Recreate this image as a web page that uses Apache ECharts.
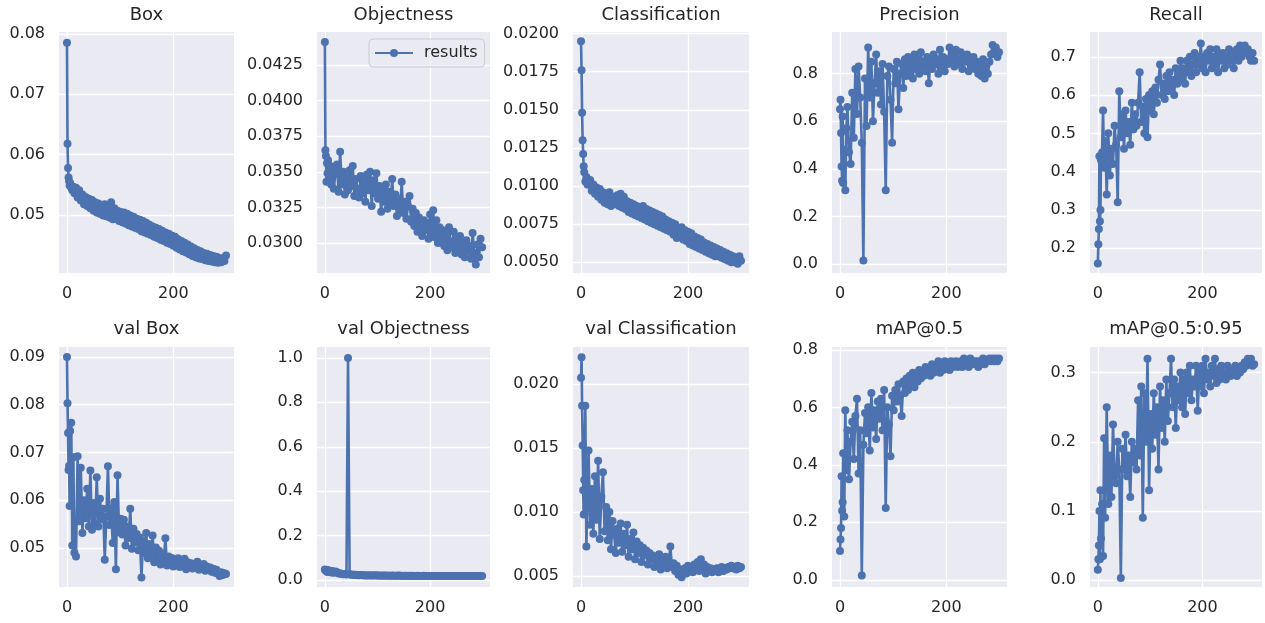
<!DOCTYPE html>
<html>
<head>
<meta charset="utf-8">
<script src="https://cdn.jsdelivr.net/npm/echarts@6/dist/echarts.min.js"></script>
<style>
html, body { margin: 0; padding: 0; background: #fff; }
#chart { width: 1265px; height: 623px; }
</style>
</head>
<body>
<div id="chart"></div>
<script>
// epochs sampled from the training log
const epochs = [
    0, 1, 2, 3, 4, 5, 6, 8, 10, 12,
    14, 17, 20, 23, 26, 29, 32, 35, 38, 41,
    44, 47, 50, 53, 56, 59, 62, 65, 68, 71,
    74, 77, 80, 83, 86, 89, 92, 95, 98, 101,
    104, 107, 110, 113, 116, 119, 122, 125, 128, 131,
    134, 137, 140, 143, 146, 149, 152, 155, 158, 161,
    164, 167, 170, 173, 176, 179, 182, 185, 188, 191,
    194, 197, 200, 203, 206, 209, 212, 215, 218, 221,
    224, 227, 230, 233, 236, 239, 242, 245, 248, 251,
    254, 257, 260, 263, 266, 269, 272, 275, 278, 281,
    284, 287, 290, 293, 296, 299
];

const boxLoss = [
    0.0785, 0.0618, 0.0578, 0.0562, 0.0556, 0.0549, 0.0553, 0.0545, 0.0541, 0.0547,
    0.0536, 0.0545, 0.0529, 0.0541, 0.0524, 0.0534, 0.0518, 0.0530, 0.0515, 0.0527,
    0.0511, 0.0525, 0.0507, 0.0521, 0.0504, 0.0519, 0.0502, 0.0516, 0.0499, 0.0518,
    0.0498, 0.0513, 0.0496, 0.0521, 0.0493, 0.0511, 0.0494, 0.0507, 0.0490, 0.0505,
    0.0488, 0.0504, 0.0486, 0.0502, 0.0483, 0.0499, 0.0481, 0.0497, 0.0479, 0.0494,
    0.0477, 0.0492, 0.0473, 0.0490, 0.0471, 0.0487, 0.0469, 0.0484, 0.0467, 0.0481,
    0.0464, 0.0479, 0.0462, 0.0477, 0.0459, 0.0474, 0.0457, 0.0471, 0.0454, 0.0469,
    0.0452, 0.0466, 0.0449, 0.0464, 0.0446, 0.0460, 0.0443, 0.0457, 0.0440, 0.0454,
    0.0438, 0.0451, 0.0435, 0.0448, 0.0432, 0.0445, 0.0430, 0.0442, 0.0428, 0.0440,
    0.0427, 0.0437, 0.0425, 0.0436, 0.0424, 0.0434, 0.0423, 0.0432, 0.0422, 0.0431,
    0.0421, 0.0429, 0.0422, 0.0428, 0.0424, 0.0433
];

const objLoss = [
    0.0441, 0.0365, 0.0361, 0.0343, 0.0356, 0.0349, 0.0358, 0.0346, 0.0354, 0.0341,
    0.0352, 0.0338, 0.0349, 0.0355, 0.0336, 0.0364, 0.0341, 0.0350, 0.0334, 0.0346,
    0.0337, 0.0351, 0.0340, 0.0354, 0.0333, 0.0345, 0.0338, 0.0332, 0.0347, 0.0335,
    0.0343, 0.0329, 0.0348, 0.0337, 0.0350, 0.0326, 0.0344, 0.0335, 0.0349, 0.0331,
    0.0340, 0.0322, 0.0337, 0.0329, 0.0341, 0.0324, 0.0336, 0.0328, 0.0345, 0.0326,
    0.0334, 0.0319, 0.0331, 0.0323, 0.0343, 0.0321, 0.0329, 0.0317, 0.0326, 0.0333,
    0.0315, 0.0324, 0.0312, 0.0321, 0.0308, 0.0318, 0.0311, 0.0305, 0.0316, 0.0309,
    0.0314, 0.0303, 0.0320, 0.0307, 0.0323, 0.0304, 0.0316, 0.0300, 0.0311, 0.0302,
    0.0309, 0.0298, 0.0306, 0.0295, 0.0311, 0.0301, 0.0297, 0.0308, 0.0293, 0.0303,
    0.0296, 0.0305, 0.0292, 0.0300, 0.0290, 0.0302, 0.0294, 0.0298, 0.0289, 0.0307,
    0.0293, 0.0285, 0.0299, 0.0290, 0.0303, 0.0297
];

const clsLoss = [
    0.0195, 0.0176, 0.0148, 0.0130, 0.0121, 0.0113, 0.0109, 0.0103, 0.0106, 0.0101,
    0.0101, 0.0104, 0.0097, 0.0101, 0.0095, 0.0099, 0.0093, 0.0098, 0.0091, 0.0096,
    0.0089, 0.0095, 0.0088, 0.0096, 0.0087, 0.0093, 0.0088, 0.0092, 0.0094, 0.0087,
    0.0095, 0.0086, 0.0093, 0.0085, 0.0090, 0.0083, 0.0089, 0.0082, 0.0088, 0.0081,
    0.0087, 0.0080, 0.0086, 0.0079, 0.0087, 0.0078, 0.0085, 0.0077, 0.0084, 0.0076,
    0.0083, 0.0075, 0.0082, 0.0074, 0.0081, 0.0073, 0.0080, 0.0072, 0.0078, 0.0071,
    0.0077, 0.0070, 0.0076, 0.0068, 0.0075, 0.0066, 0.0072, 0.0067, 0.0073, 0.0065,
    0.0071, 0.0064, 0.0070, 0.0062, 0.0069, 0.0061, 0.0067, 0.0060, 0.0066, 0.0059,
    0.0065, 0.0058, 0.0063, 0.0057, 0.0062, 0.0056, 0.0061, 0.0055, 0.0060, 0.0054,
    0.0059, 0.0054, 0.0058, 0.0053, 0.0057, 0.0052, 0.0056, 0.0051, 0.0055, 0.0050,
    0.0054, 0.0050, 0.0053, 0.0049, 0.0054, 0.0051
];

const precision = [
    0.65, 0.69, 0.55, 0.41, 0.35, 0.62, 0.34, 0.48, 0.31, 0.57,
    0.66, 0.47, 0.42, 0.72, 0.53, 0.82, 0.63, 0.83, 0.70, 0.51,
    0.015, 0.78, 0.58, 0.91, 0.70, 0.85, 0.60, 0.76, 0.88, 0.72,
    0.81, 0.67, 0.84, 0.64, 0.31, 0.79, 0.83, 0.69, 0.51, 0.82,
    0.76, 0.85, 0.65, 0.80, 0.84, 0.74, 0.86, 0.79, 0.87, 0.81,
    0.85, 0.78, 0.88, 0.82, 0.86, 0.80, 0.89, 0.83, 0.85, 0.81,
    0.87, 0.76, 0.85, 0.82, 0.88, 0.84, 0.86, 0.80, 0.90, 0.83,
    0.87, 0.81, 0.86, 0.84, 0.91, 0.85, 0.88, 0.83, 0.90, 0.86,
    0.84, 0.89, 0.82, 0.87, 0.85, 0.88, 0.81, 0.86, 0.83, 0.87,
    0.82, 0.85, 0.80, 0.84, 0.79, 0.86, 0.78, 0.83, 0.80, 0.85,
    0.88, 0.92, 0.89, 0.91, 0.87, 0.89
];

const recall = [
    0.16, 0.21, 0.25, 0.44, 0.27, 0.30, 0.43, 0.45, 0.56, 0.41,
    0.48, 0.34, 0.50, 0.39, 0.46, 0.42, 0.52, 0.47, 0.32, 0.61,
    0.49, 0.55, 0.46, 0.56, 0.50, 0.53, 0.47, 0.58, 0.51, 0.55,
    0.52, 0.58, 0.66, 0.53, 0.57, 0.50, 0.59, 0.49, 0.60, 0.56,
    0.61, 0.55, 0.62, 0.58, 0.64, 0.68, 0.60, 0.63, 0.59, 0.65,
    0.61, 0.66, 0.62, 0.64, 0.60, 0.67, 0.63, 0.65, 0.69, 0.64,
    0.67, 0.63, 0.69, 0.66, 0.70, 0.65, 0.68, 0.71, 0.66, 0.70,
    0.68, 0.735, 0.67, 0.70, 0.66, 0.71, 0.69, 0.72, 0.67, 0.70,
    0.68, 0.72, 0.66, 0.70, 0.69, 0.71, 0.67, 0.70, 0.68, 0.72,
    0.69, 0.71, 0.67, 0.70, 0.72, 0.69, 0.73, 0.70, 0.72, 0.73,
    0.71, 0.72, 0.70, 0.69, 0.71, 0.69
];

const valBoxLoss = [
    0.0900, 0.0803, 0.0741, 0.0663, 0.0672, 0.0588, 0.0745, 0.0762, 0.0505, 0.0690,
    0.0490, 0.0482, 0.0692, 0.0556, 0.0668, 0.0531, 0.0600, 0.0562, 0.0624, 0.0545,
    0.0662, 0.0538, 0.0594, 0.0551, 0.0648, 0.0545, 0.0603, 0.0560, 0.0582, 0.0475,
    0.0565, 0.0671, 0.0548, 0.0583, 0.0510, 0.0596, 0.0455, 0.0652, 0.0533, 0.0561,
    0.0528, 0.0559, 0.0505, 0.0545, 0.0520, 0.0582, 0.0498, 0.0540, 0.0512, 0.0529,
    0.0495, 0.0522, 0.0438, 0.0515, 0.0489, 0.0531, 0.0478, 0.0508, 0.0485, 0.0526,
    0.0470, 0.0501, 0.0476, 0.0494, 0.0465, 0.0488, 0.0472, 0.0520, 0.0463, 0.0482,
    0.0468, 0.0479, 0.0461, 0.0475, 0.0466, 0.0478, 0.0460, 0.0473, 0.0464, 0.0477,
    0.0455, 0.0470, 0.0462, 0.0468, 0.0457, 0.0466, 0.0459, 0.0471, 0.0454, 0.0463,
    0.0458, 0.0466, 0.0452, 0.0461, 0.0455, 0.0459, 0.0450, 0.0456, 0.0448, 0.0454,
    0.0446, 0.0441, 0.0449, 0.0443, 0.0447, 0.0445
];

const valObjLoss = [
    0.048, 0.046, 0.042, 0.045, 0.038, 0.044, 0.036, 0.043, 0.040, 0.034,
    0.041, 0.033, 0.039, 0.035, 0.030, 0.031, 0.028, 0.026, 0.027, 0.025,
    1.000, 0.026, 0.024, 0.025, 0.023, 0.024, 0.023, 0.022, 0.023, 0.022,
    0.022, 0.021, 0.022, 0.021, 0.022, 0.021, 0.021, 0.022, 0.021, 0.021,
    0.021, 0.020, 0.021, 0.021, 0.020, 0.021, 0.020, 0.020, 0.021, 0.020,
    0.020, 0.020, 0.021, 0.020, 0.020, 0.019, 0.020, 0.020, 0.019, 0.020,
    0.019, 0.020, 0.019, 0.019, 0.020, 0.019, 0.019, 0.019, 0.020, 0.019,
    0.019, 0.019, 0.018, 0.019, 0.019, 0.018, 0.019, 0.019, 0.018, 0.019,
    0.018, 0.019, 0.018, 0.018, 0.019, 0.018, 0.018, 0.018, 0.019, 0.018,
    0.018, 0.018, 0.018, 0.019, 0.018, 0.018, 0.018, 0.018, 0.018, 0.018,
    0.018, 0.018, 0.018, 0.018, 0.018, 0.018
];

const valClsLoss = [
    0.0205, 0.0221, 0.0183, 0.0152, 0.0117, 0.0098, 0.0125, 0.0183, 0.0073, 0.0110,
    0.0148, 0.0090, 0.0118, 0.0083, 0.0128, 0.0094, 0.0140, 0.0079, 0.0112, 0.0131,
    0.0085, 0.0104, 0.0078, 0.0100, 0.0071, 0.0093, 0.0082, 0.0068, 0.0087, 0.0076,
    0.0091, 0.0069, 0.0083, 0.0074, 0.0090, 0.0065, 0.0079, 0.0071, 0.0084, 0.0063,
    0.0077, 0.0068, 0.0074, 0.0061, 0.0072, 0.0066, 0.0070, 0.0059, 0.0068, 0.0063,
    0.0066, 0.0057, 0.0064, 0.0060, 0.0067, 0.0055, 0.0062, 0.0058, 0.0065, 0.0056,
    0.0061, 0.0073, 0.0057, 0.0060, 0.0054, 0.0058, 0.0051, 0.0055, 0.0049, 0.0053,
    0.0056, 0.0052, 0.0058, 0.0054, 0.0057, 0.0053, 0.0059, 0.0055, 0.0061, 0.0054,
    0.0063, 0.0056, 0.0059, 0.0052, 0.0057, 0.0054, 0.0056, 0.0053, 0.0055, 0.0054,
    0.0056, 0.0053, 0.0055, 0.0057, 0.0054, 0.0056, 0.0055, 0.0057, 0.0056, 0.0058,
    0.0056, 0.0057, 0.0055, 0.0058, 0.0056, 0.0057
];

const map50 = [
    0.10, 0.14, 0.18, 0.36, 0.24, 0.27, 0.44, 0.22, 0.59, 0.38,
    0.52, 0.35, 0.48, 0.55, 0.42, 0.57, 0.63, 0.37, 0.52, 0.015,
    0.47, 0.58, 0.51, 0.60, 0.45, 0.65, 0.53, 0.59, 0.49, 0.62,
    0.56, 0.63, 0.52, 0.66, 0.25, 0.60, 0.54, 0.43, 0.64, 0.59,
    0.66, 0.62, 0.68, 0.64, 0.57, 0.69, 0.65, 0.70, 0.66, 0.71,
    0.68, 0.72, 0.67, 0.71, 0.69, 0.73, 0.70, 0.72, 0.71, 0.74,
    0.72, 0.73, 0.71, 0.75, 0.72, 0.74, 0.73, 0.76, 0.72, 0.75,
    0.73, 0.76, 0.74, 0.75, 0.73, 0.76, 0.74, 0.75, 0.76, 0.74,
    0.75, 0.76, 0.74, 0.77, 0.75, 0.76, 0.74, 0.77, 0.75, 0.76,
    0.75, 0.76, 0.74, 0.76, 0.75, 0.77, 0.75, 0.76, 0.76, 0.77,
    0.76, 0.77, 0.76, 0.77, 0.76, 0.77
];

const map5095 = [
    0.015, 0.030, 0.050, 0.100, 0.030, 0.130, 0.060, 0.110, 0.035, 0.205,
    0.090, 0.250, 0.110, 0.180, 0.120, 0.225, 0.150, 0.140, 0.200, 0.160,
    0.003, 0.190, 0.160, 0.210, 0.150, 0.180, 0.120, 0.200, 0.170, 0.190,
    0.160, 0.260, 0.180, 0.280, 0.090, 0.270, 0.200, 0.320, 0.130, 0.240,
    0.190, 0.270, 0.210, 0.250, 0.160, 0.280, 0.220, 0.260, 0.200, 0.290,
    0.230, 0.270, 0.320, 0.250, 0.290, 0.220, 0.280, 0.260, 0.300, 0.250,
    0.290, 0.240, 0.300, 0.270, 0.310, 0.260, 0.290, 0.280, 0.310, 0.245,
    0.300, 0.280, 0.310, 0.270, 0.320, 0.290, 0.300, 0.280, 0.310, 0.295,
    0.320, 0.285, 0.305, 0.290, 0.310, 0.295, 0.300, 0.290, 0.310, 0.300,
    0.295, 0.305, 0.300, 0.310, 0.295, 0.305, 0.300, 0.310, 0.305, 0.315,
    0.310, 0.320, 0.315, 0.320, 0.310, 0.312
];

const titles = ['Box', 'Objectness', 'Classification', 'Precision', 'Recall',
    'val Box', 'val Objectness', 'val Classification', 'mAP@0.5', 'mAP@0.5:0.95'];
const seriesValues = [boxLoss, objLoss, clsLoss, precision, recall,
    valBoxLoss, valObjLoss, valClsLoss, map50, map5095];
const xTicks = [0, 200];
const yTicks = [
    [0.05, 0.06, 0.07, 0.08],
    [0.0300, 0.0325, 0.0350, 0.0375, 0.0400, 0.0425],
    [0.0050, 0.0075, 0.0100, 0.0125, 0.0150, 0.0175, 0.0200],
    [0.0, 0.2, 0.4, 0.6, 0.8],
    [0.2, 0.3, 0.4, 0.5, 0.6, 0.7],
    [0.05, 0.06, 0.07, 0.08, 0.09],
    [0.0, 0.2, 0.4, 0.6, 0.8, 1.0],
    [0.005, 0.010, 0.015, 0.020],
    [0.0, 0.2, 0.4, 0.6, 0.8],
    [0.0, 0.1, 0.2, 0.3]
];
const yDecimals = [2, 4, 4, 1, 1, 2, 1, 3, 1, 1];

// layout: plot rectangles and axis ranges
const colLeft = [59, 317, 573, 832, 1090];
const colWidth = [175, 173, 176, 175, 172];
const rowTop = [32, 347];
const rowHeight = [241, 240];
const yRange = [
    [0.0404, 0.0803], [0.0279, 0.0448], [0.0043, 0.0201], [-0.038, 0.975], [0.135, 0.765],
    [0.0418, 0.0921], [-0.031, 1.049], [0.00414, 0.0229], [-0.025, 0.81], [-0.010, 0.337]
];

const blue = '#4C72B0';
const textColor = '#262626';
const font = 'DejaVu Sans';

const grid = [], xAxis = [], yAxis = [], series = [], title = [];
for (let i = 0; i < 10; i++) {
    const r = Math.floor(i / 5), c = i % 5;
    grid.push({
        left: colLeft[c], top: rowTop[r], width: colWidth[c], height: rowHeight[r],
        show: true, backgroundColor: '#EAEAF2', borderWidth: 0
    });
    title.push({
        text: titles[i],
        left: colLeft[c] + colWidth[c] / 2,
        top: r === 0 ? 6 : 320,
        textAlign: 'center',
        padding: 0,
        textStyle: {fontFamily: font, fontSize: 18, fontWeight: 'normal', color: textColor}
    });
    xAxis.push({
        type: 'value', gridIndex: i, min: -15, max: 314,
        axisLine: {show: false},
        axisTick: {show: false, customValues: xTicks},
        axisLabel: {customValues: xTicks, margin: 13, fontFamily: font, fontSize: 16, color: textColor},
        splitLine: {show: true, lineStyle: {color: '#ffffff', width: 1.3}}
    });
    const dec = yDecimals[i];
    yAxis.push({
        type: 'value', gridIndex: i, min: yRange[i][0], max: yRange[i][1],
        axisLine: {show: false},
        axisTick: {show: false, customValues: yTicks[i]},
        axisLabel: {
            customValues: yTicks[i], margin: 14, fontFamily: font, fontSize: 16, color: textColor,
            formatter: v => v.toFixed(dec)
        },
        splitLine: {show: true, lineStyle: {color: '#ffffff', width: 1.3}}
    });
    series.push({
        name: 'results',
        type: 'line',
        xAxisIndex: i, yAxisIndex: i,
        data: epochs.map((e, k) => [e, seriesValues[i][k]]),
        symbol: 'circle', symbolSize: 8, showAllSymbol: true,
        lineStyle: {color: blue, width: 2.6},
        itemStyle: {color: blue},
        silent: true
    });
}

const chart = echarts.init(document.getElementById('chart'));
chart.setOption({
    animation: false,
    backgroundColor: '#ffffff',
    title: title,
    grid: grid,
    xAxis: xAxis,
    yAxis: yAxis,
    legend: {
        data: [{name: 'results', itemStyle: {color: blue}}],
        left: 369, top: 39,
        padding: [6, 7, 6, 5],
        itemWidth: 38, itemHeight: 10,
        backgroundColor: 'rgba(234,234,242,0.8)',
        borderColor: '#cccccc', borderWidth: 1, borderRadius: 4,
        selectedMode: false,
        textStyle: {fontFamily: font, fontSize: 16, color: textColor, padding: [0, 0, 0, 6]}
    },
    series: series
});
</script>
</body>
</html>
